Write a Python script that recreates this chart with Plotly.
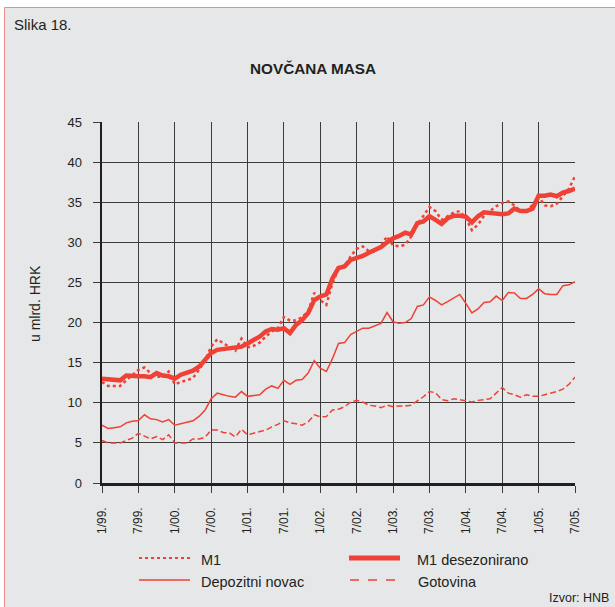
import plotly.graph_objects as go

# ---- data (u mlrd. HRK), monthly 1/99 .. 7/05 ----
months = list(range(79))
tick_positions = list(range(0, 79, 6))
tick_labels = ["1/99.", "7/99.", "1/00.", "7/00.", "1/01.", "7/01.", "1/02.",
               "7/02.", "1/03.", "7/03.", "1/04.", "7/04.", "1/05.", "7/05."]
y_ticks = [0, 5, 10, 15, 20, 25, 30, 35, 40, 45]

m1 = [12.6, 12.1, 12.1, 12.1, 12.8, 13.5, 14.1, 14.4, 13.7, 13.3, 13.2, 13.9, 12.3, 12.6, 12.8, 13.1, 14.1, 15.3, 17.0, 17.9, 17.4,
      16.9, 16.5, 18.0, 16.9, 17.1, 17.5, 18.25, 18.9, 19.3, 20.7, 20.25, 20.25, 20.7, 21.4, 23.7, 22.8, 22.2, 24.9, 26.7, 27.1,
      28.25, 29.2, 29.5, 28.9, 28.9, 29.5, 30.75, 29.6, 29.5, 29.7, 30.75, 32.2, 33.3, 34.4, 33.9, 32.8, 33.25, 33.7, 33.9,
      33.0, 31.5, 32.2, 33.3, 33.9, 34.5, 34.9, 35.1, 34.6, 33.9, 33.7, 34.7, 35.7, 34.6, 34.5, 34.8, 35.8, 36.7, 38.25]

m1_desez = [13.0, 12.9, 12.9, 12.8, 13.4, 13.3, 13.3, 13.3, 13.2, 13.7, 13.4, 13.3, 13.0, 13.5, 13.7, 14.0, 14.5, 15.3, 16.2, 16.6, 16.7,
            16.8, 16.8, 17.0, 17.4, 17.8, 18.25, 18.9, 19.2, 19.1, 19.3, 18.7, 19.7, 20.3, 21.2, 22.8, 23.25, 23.5, 25.5, 26.8, 27.0,
            27.8, 28.0, 28.3, 28.7, 29.1, 29.4, 30.0, 30.5, 30.8, 31.2, 31.0, 32.4, 32.6, 33.25, 32.8, 32.3, 33.0, 33.3, 33.3,
            33.2, 32.5, 33.25, 33.75, 33.7, 33.6, 33.5, 33.6, 34.2, 33.9, 33.9, 34.2, 35.8, 35.8, 35.96, 35.75, 36.2, 36.4, 36.7]

depozitni = [7.2, 6.8, 6.9, 7.0, 7.5, 7.7, 7.8, 8.5, 8.0, 7.9, 7.6, 7.9, 7.2, 7.4, 7.6, 7.75, 8.3, 9.1, 10.5, 11.2, 11.0,
             10.8, 10.7, 11.4, 10.8, 10.9, 11.0, 11.7, 12.1, 11.8, 12.8, 12.3, 12.8, 12.9, 13.7, 15.25, 14.3, 13.9, 15.5, 17.4, 17.5,
             18.5, 18.9, 19.3, 19.3, 19.6, 19.9, 21.25, 20.1, 19.9, 20.0, 20.5, 22.0, 22.2, 23.2, 22.75, 22.2, 22.6, 23.0, 23.5,
             22.4, 21.2, 21.7, 22.5, 22.6, 23.3, 22.75, 23.75, 23.7, 23.0, 23.0, 23.5, 24.2, 23.6, 23.5, 23.5, 24.6, 24.7, 25.1]

gotovina = [5.3, 5.0, 5.0, 5.0, 5.3, 5.6, 6.2, 5.8, 5.5, 5.8, 5.4, 6.0, 5.0, 5.0, 5.0, 5.5, 5.5, 5.7, 6.6, 6.6, 6.3,
            6.25, 5.75, 6.7, 6.0, 6.2, 6.4, 6.6, 7.0, 7.3, 7.75, 7.5, 7.4, 7.2, 7.6, 8.5, 8.25, 8.3, 9.1, 9.2, 9.5,
            10.1, 10.3, 10.1, 9.7, 9.6, 9.4, 9.7, 9.5, 9.6, 9.6, 9.7, 10.25, 10.75, 11.4, 11.25, 10.4, 10.25, 10.5, 10.4,
            10.25, 10.1, 10.3, 10.4, 10.5, 11.2, 11.9, 11.2, 11.0, 10.7, 11.0, 10.8, 10.8, 11.0, 11.2, 11.4, 11.7, 12.3, 13.2]

# ---- layout geometry ----
W, H = 615, 607
L, R, T, B = 102, 40, 122, 124
PW, PH = W - L - R, H - T - B
RED = "#ef4136"
TXT = "#231f20"
BG = "#e6e7e8"
FONT = "Liberation Sans, Arial, Helvetica, sans-serif"


def px(x):
    return (x - L) / PW


def py(y):
    return (H - B - y) / PH


fig = go.Figure()
fig.add_trace(go.Scatter(x=months, y=gotovina, mode="lines", name="Gotovina",
                         line=dict(color=RED, width=1.5, dash="6px,3px"), showlegend=False))
fig.add_trace(go.Scatter(x=months, y=depozitni, mode="lines", name="Depozitni novac",
                         line=dict(color=RED, width=1.5), showlegend=False))
fig.add_trace(go.Scatter(x=months, y=m1, mode="lines", name="M1",
                         line=dict(color=RED, width=2.5, dash="dot"), showlegend=False))
fig.add_trace(go.Scatter(x=months, y=m1_desez, mode="lines", name="M1 desezonirano",
                         line=dict(color=RED, width=4.5), showlegend=False))

shapes = [
    dict(type="rect", xref="paper", yref="paper", x0=px(4.5), x1=px(640), y0=py(7.5), y1=py(640),
         fillcolor=BG, line=dict(color="#ee8e8c", width=1), layer="below"),
]
annotations = [
    dict(text="Slika 18.", x=px(12), y=py(25), xref="paper", yref="paper", xanchor="left", yanchor="middle",
         showarrow=False, font=dict(size=15, color=TXT, family=FONT)),
    dict(text="<b>NOVČANA MASA</b>", x=px(313), y=py(68), xref="paper", yref="paper", xanchor="center",
         yanchor="middle", showarrow=False, font=dict(size=15.3, color=TXT, family=FONT)),
    dict(text="u mlrd. HRK", x=px(35), y=py(304), xref="paper", yref="paper", xanchor="center",
         yanchor="middle", textangle=-90, showarrow=False, font=dict(size=14, color=TXT, family=FONT)),
    dict(text="Izvor: HNB", x=px(611), y=py(598), xref="paper", yref="paper", xanchor="right",
         yanchor="middle", showarrow=False, font=dict(size=12.5, color=TXT, family=FONT)),
]

# manual legend
legend_items = [
    ("M1", 139, 190, 199, 558, dict(color=RED, width=2, dash="dot")),
    ("M1 desezonirano", 349, 400, 415, 558, dict(color=RED, width=5)),
    ("Depozitni novac", 139, 190, 199, 580, dict(color=RED, width=1.5)),
    ("Gotovina", 350, 400, 416, 580, dict(color=RED, width=1.5, dash="dash")),
]
for name, xa, xb, xt, yy, ln in legend_items:
    shapes.append(dict(type="line", xref="paper", yref="paper", x0=px(xa), x1=px(xb), y0=py(yy), y1=py(yy),
                       line=ln))
    annotations.append(dict(text=name, x=px(xt), y=py(yy + 1.5), xref="paper",
                            yref="paper", xanchor="left", yanchor="middle", showarrow=False,
                            font=dict(size=14.5, color=TXT, family=FONT)))

fig.update_layout(
    width=W, height=H,
    margin=dict(l=L, r=R, t=T, b=B),
    paper_bgcolor="white",
    plot_bgcolor=BG,
    font=dict(family=FONT, color=TXT),
    shapes=shapes,
    annotations=annotations,
    showlegend=False,
    xaxis=dict(range=[0, 78], tickvals=tick_positions, ticktext=tick_labels, tickangle=-90,
               showgrid=True, gridcolor="#3c3c3c", gridwidth=1,
               showline=True, linecolor=TXT, linewidth=2.5,
               ticks="outside", ticklen=7, tickcolor="#3c3c3c", ticklabelstandoff=10,
               tickfont=dict(size=12, color=TXT, family=FONT), zeroline=False, fixedrange=True),
    yaxis=dict(range=[0, 45], tickvals=y_ticks, showgrid=True, gridcolor="#3c3c3c", gridwidth=1,
               showline=True, linecolor=TXT, linewidth=2.5,
               ticks="outside", ticklen=7, tickcolor="#3c3c3c", ticklabelstandoff=8,
               tickfont=dict(size=13, color=TXT, family=FONT), zeroline=False, fixedrange=True),
)

fig.write_html("out.html", config={"displayModeBar": False, "staticPlot": True},
               post_script="document.body.style.margin='0';document.body.style.overflow='hidden';")
